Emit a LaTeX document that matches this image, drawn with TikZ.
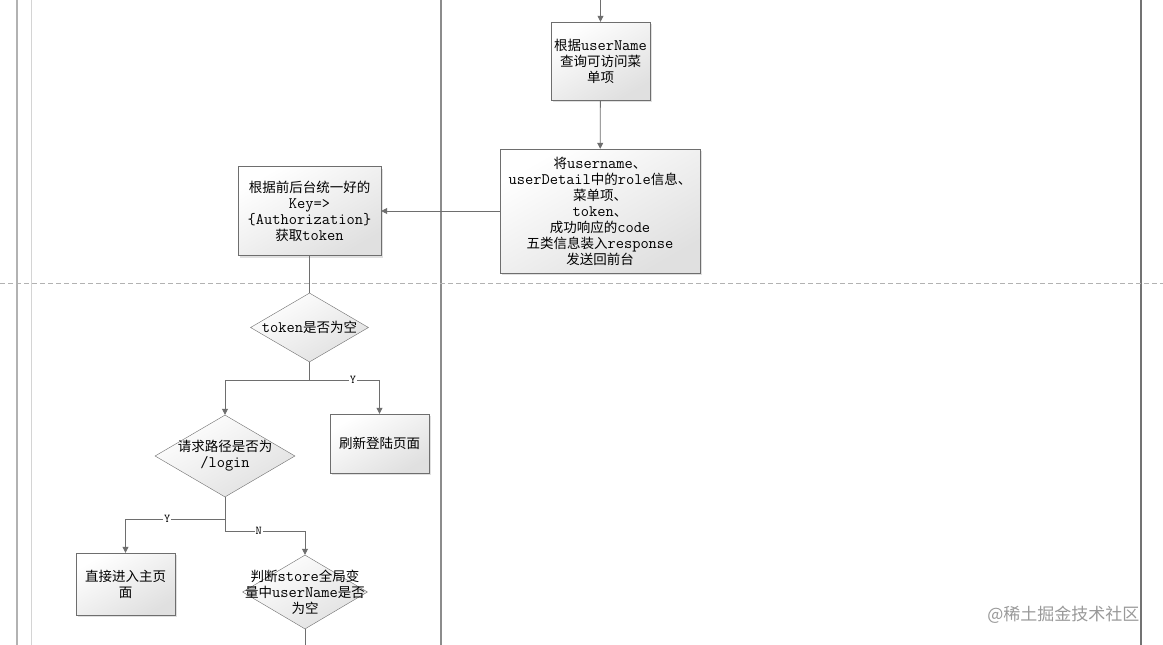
\documentclass[tikz,border=0pt]{standalone}
\usepackage{fontspec}
\setmainfont{Noto Sans CJK SC}
\usetikzlibrary{shapes.geometric,arrows.meta,shadows}

\definecolor{linegray}{HTML}{6E6E6E}
\definecolor{lanegray}{HTML}{8C8C8C}
\definecolor{boxshade}{HTML}{E0E0E0}

\newcommand\code[1]{{\ttfamily\fontsize{16}{16}\selectfont #1}}

\tikzset{
  procbox/.style={rectangle, draw=linegray, thin, inner sep=0pt, align=center,
    top color=white, bottom color=boxshade, shading angle=30,
    drop shadow={shadow xshift=2pt, shadow yshift=-2pt, fill=black!12, opacity=1},
    font=\fontsize{13.5}{16}\selectfont},
  decision/.style={diamond, draw=linegray, thin, inner sep=0pt,
    top color=white, bottom color=boxshade, shading angle=30},
  flow/.style={draw=linegray, thick, -{Triangle[length=6pt,width=6pt]}},
  plain/.style={draw=linegray, thick},
  yn/.style={fill=white, inner sep=1pt, font=\ttfamily\fontsize{12}{12}\selectfont},
  lane/.style={draw=lanegray, line width=2pt},
}

\begin{document}
\begin{tikzpicture}[x=1pt, y=-1pt]

\useasboundingbox (0,0) rectangle (1163,645);
\fill[white] (0,0) rectangle (1163,645);

% swimlane borders
\draw[lane, draw=black!30] (17,0) -- (17,645);
\draw[draw=black!17, line width=1pt] (31,0) -- (31,645);
\draw[lane, line width=2.4pt] (441,0) -- (441,645);
\draw[lane, draw=black!55, line width=1.4pt] (1141,0) -- (1141,645);
% phase separator
\draw[draw=black!30, dash pattern=on 5pt off 3pt] (0,283) -- (1163,283);

% right lane
\coordinate (in) at (600.5,0);
\node[procbox, minimum width=99pt, minimum height=78pt] (menu) at (600.5,61)
  {根据\code{userName}\\查询可访问菜\\单项};
\node[procbox, minimum width=200pt, minimum height=124pt] (resp) at (600,211)
  {将\code{username}、\\\code{userDetail}中的\code{role}信息、\\菜单项、\\\code{token}、\\成功响应的\code{code}\\五类信息装入\code{response}\\发送回前台};

% left lane
\node[procbox, minimum width=143pt, minimum height=89pt] (gettoken) at (309.5,211)
  {根据前后台统一好的\\\code{Key=>}\\\code{\{Authorization\}}\\获取\code{token}};
\node[decision, minimum width=118pt, minimum height=69pt] (isnull) at (309.5,327.5) {};
\node[font=\fontsize{13.5}{16}\selectfont] at (isnull) {\code{token}是否为空};
\node[procbox, minimum width=99pt, minimum height=59pt] (refresh) at (379.5,443.5) {刷新登陆页面};
\node[decision, minimum width=140pt, minimum height=82pt] (islogin) at (225,456) {};
\node[align=center, font=\fontsize{13.5}{16}\selectfont] at (islogin) {请求路径是否为\\\code{/login}};
\node[procbox, minimum width=99pt, minimum height=62pt] (home) at (125.5,584) {直接进入主页\\面};
\node[decision, minimum width=125pt, minimum height=74pt] (hasuser) at (305,592) {};
\node[align=center, font=\fontsize{13.5}{16}\selectfont] at (hasuser)
  {判断\code{store}全局变\\量中\code{userName}是否\\为空};
\coordinate (out) at (305,645);

% connectors
\coordinate (j1) at (309.5,380);
\coordinate (j2) at (225,519);
\coordinate (j3) at (225,531);
\draw[flow] (in) -- (menu);
\draw[flow] (menu) -- (resp);
\draw[flow] (resp.west) -- (resp.west -| gettoken.east);
\draw[plain] (gettoken) -- (isnull);
\draw[plain] (isnull.south) -- (j1);
\draw[flow] (j1) -| (islogin.north);
\draw[flow] (j1) -| node[yn, pos=0.31] {Y} (refresh.north);
\draw[plain] (islogin.south) -- (j3);
\draw[flow] (j2) -| node[yn, pos=0.29] {Y} (home.north);
\draw[flow] (j3) -| node[yn, pos=0.21] {N} (hasuser.north);
\draw[plain] (hasuser.south) -- (out);

% watermark
\node[text=black!40, font=\fontsize{17}{17}\selectfont, anchor=east] (mark) at (1143,615) {@稀土掘金技术社区};

\end{tikzpicture}
\end{document}
